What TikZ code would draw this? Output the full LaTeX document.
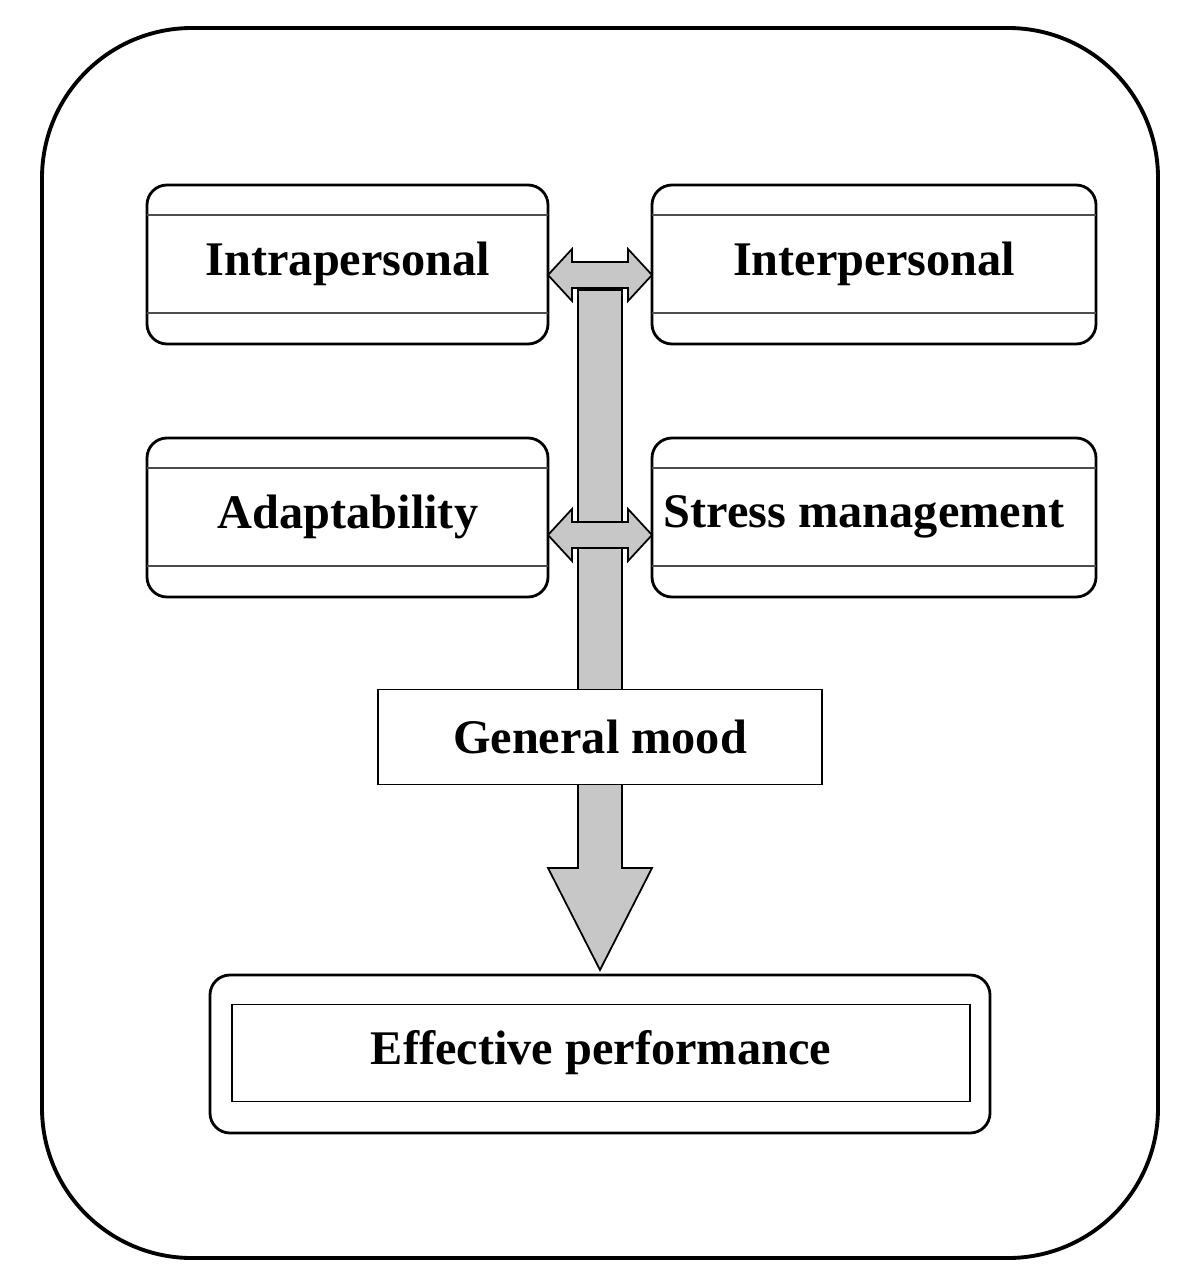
\documentclass[tikz,border=0pt]{standalone}
\usepackage{fontspec}
\setmainfont{Liberation Serif}
\begin{document}
\begin{tikzpicture}[x=0.02cm,y=-0.02cm,
  lbl/.style={font=\fontsize{27.5}{32}\selectfont\bfseries},
  rbox/.style={draw,line width=1.6pt,rounded corners=0.4cm},
  inl/.style={line width=1.4pt,draw=black!70},
  garrow/.style={draw,line width=1pt,fill=black!22}]
\useasboundingbox (0,0) rectangle (1194,1287);
\draw[line width=2.2pt,rounded corners=3cm] (42,28) rectangle (1158,1258);
% vertical arrow
\draw[garrow] (578,290) -- (622,290) -- (622,868) -- (652,868) -- (600,970) -- (548,868) -- (578,868) -- cycle;
% boxes
\foreach \n/\xa/\xb/\ya/\t/\cx in {intra/147/548/185/Intrapersonal/348, inter/652/1096/185/Interpersonal/874, adapt/147/548/438/Adaptability/348, stress/652/1096/438/Stress management/864}{
  \draw[rbox] (\xa,\ya) rectangle (\xb,\ya+159);
  \draw[inl] (\xa,\ya+30) -- (\xb,\ya+30);
  \draw[inl] (\xa,\ya+128) -- (\xb,\ya+128);
  \node[lbl] (\n) at (\cx,\ya+79) {\t};
}
% horizontal double arrows
\foreach \y in {275,535}{
  \draw[garrow] (548,\y) -- (572,\y-26) -- (572,\y-13) -- (628,\y-13) -- (628,\y-26) -- (652,\y) -- (628,\y+26) -- (628,\y+13) -- (572,\y+13) -- (572,\y+26) -- cycle;
}
\node[draw,line width=1pt,fill=white,minimum width=8.88cm,minimum height=1.9cm,lbl] (mood) at (600,737) {General mood};
\draw[rbox] (210,975) rectangle (990,1133);
\node[draw,line width=1pt,minimum width=14.76cm,minimum height=1.94cm,lbl] (eff) at (601,1053) {Effective performance};
\end{tikzpicture}
\end{document}
